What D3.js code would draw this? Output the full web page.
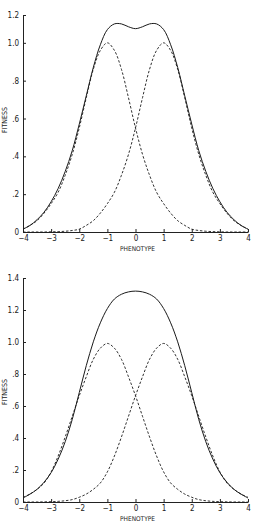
<!DOCTYPE html>
<html>
<head>
<meta charset="utf-8">
<script src="https://cdn.jsdelivr.net/npm/d3@7"></script>
<style>
  body { margin: 0; background: #fff; }
  svg text { font-family: "DejaVu Sans Condensed", "DejaVu Sans", sans-serif; fill: #1a1a1a; }
</style>
</head>
<body>
<svg id="chart" width="258" height="522"></svg>
<script>
// phenotype grid, -4 .. 4 every 0.25
const phenotype = [-4, -3.75, -3.5, -3.25, -3, -2.75, -2.5, -2.25, -2, -1.75, -1.5, -1.25, -1,
  -0.75, -0.5, -0.25, 0, 0.25, 0.5, 0.75, 1, 1.25, 1.5, 1.75, 2, 2.25, 2.5, 2.75, 3, 3.25, 3.5, 3.75, 4];

// top panel
const topLeft = [0.015, 0.035, 0.06, 0.10, 0.15, 0.21, 0.30, 0.41, 0.55, 0.71, 0.86, 0.96, 1.00,
  0.96, 0.86, 0.71, 0.55, 0.41, 0.30, 0.21, 0.15, 0.10, 0.06, 0.035, 0.015, 0.008, 0.004, 0.002, 0.001, 0, 0, 0, 0];
const topRight = [0, 0, 0, 0, 0.001, 0.002, 0.004, 0.008, 0.015, 0.035, 0.06, 0.10, 0.15,
  0.21, 0.30, 0.41, 0.55, 0.71, 0.86, 0.96, 1.00, 0.96, 0.86, 0.71, 0.55, 0.41, 0.30, 0.21, 0.15, 0.10, 0.06, 0.035, 0.015];
const topTotal = [0.015, 0.035, 0.065, 0.105, 0.16, 0.23, 0.32, 0.43, 0.57, 0.72, 0.87, 0.99, 1.07,
  1.10, 1.10, 1.085, 1.075, 1.085, 1.10, 1.10, 1.07, 0.99, 0.87, 0.72, 0.57, 0.43, 0.32, 0.23, 0.16, 0.105, 0.065, 0.035, 0.015];

// bottom panel
const botLeft = [0.03, 0.05, 0.08, 0.12, 0.19, 0.29, 0.41, 0.54, 0.67, 0.79, 0.90, 0.97, 1.00,
  0.97, 0.90, 0.79, 0.67, 0.54, 0.41, 0.29, 0.19, 0.12, 0.08, 0.05, 0.03, 0.015, 0.008, 0.004, 0.002, 0.001, 0, 0, 0];
const botRight = [0, 0, 0, 0.001, 0.002, 0.004, 0.008, 0.015, 0.03, 0.05, 0.08, 0.12, 0.19,
  0.29, 0.41, 0.54, 0.67, 0.79, 0.90, 0.97, 1.00, 0.97, 0.90, 0.79, 0.67, 0.54, 0.41, 0.29, 0.19, 0.12, 0.08, 0.05, 0.03];
const botTotal = [0.025, 0.05, 0.08, 0.125, 0.185, 0.27, 0.38, 0.52, 0.69, 0.86, 1.01, 1.13, 1.22,
  1.28, 1.31, 1.325, 1.33, 1.325, 1.31, 1.28, 1.22, 1.13, 1.01, 0.86, 0.69, 0.52, 0.38, 0.27, 0.185, 0.125, 0.08, 0.05, 0.025];

const xTicks = [-4, -3, -2, -1, 0, 1, 2, 3, 4];
const topYTicks = [0, 0.2, 0.4, 0.6, 0.8, 1.0, 1.2];
const botYTicks = [0, 0.2, 0.4, 0.6, 0.8, 1.0, 1.2, 1.4];

const svg = d3.select("#chart");
const fmt = v => v === 0 ? "0" : (v < 1 ? d3.format(".1f")(v).replace(/^0/, "") : d3.format(".1f")(v));

function panel(cfg) {
  const g = svg.append("g");
  const x = d3.scaleLinear().domain([-4, 4]).range([cfg.left, cfg.right]);
  const y = d3.scaleLinear().domain(cfg.yDomain).range([cfg.bottom, cfg.top]);
  // the plotter put the top label at the end of the axis, not to scale
  const yAxisScale = d3.scaleLinear().domain(cfg.axisDomain).range(cfg.axisDomain.map(
    (v, i) => i === cfg.axisDomain.length - 1 ? cfg.axisTop : y(v)));

  const xa = g.append("g").attr("transform", `translate(0,${cfg.bottom})`)
    .call(d3.axisBottom(x).tickValues(xTicks).tickSize(0).tickPadding(3).tickFormat(d3.format("d")));
  xa.select(".domain").attr("stroke", "#222").attr("stroke-width", 1);
  xa.selectAll(".tick line").attr("y1", -3).attr("y2", 0).attr("stroke", "#222");
  xa.selectAll("text").attr("font-size", 8).attr("fill", "#1a1a1a");

  const ya = g.append("g").attr("transform", `translate(${cfg.left},0)`)
    .call(d3.axisLeft(yAxisScale).tickValues(cfg.yTicks).tickSize(0).tickPadding(4).tickFormat(fmt));
  ya.select(".domain").attr("stroke", "#222").attr("stroke-width", 1);
  ya.selectAll(".tick line").attr("x1", 0).attr("x2", 3).attr("stroke", "#222");
  ya.selectAll("text").attr("font-size", 8).attr("fill", "#1a1a1a");

  g.append("text").attr("x", (cfg.left + cfg.right) / 2 + 2).attr("y", cfg.bottom + 19)
    .attr("text-anchor", "middle").attr("font-size", 6.5).text("PHENOTYPE");
  g.append("text").attr("transform", `translate(7,${cfg.labelY}) rotate(-90)`)
    .attr("text-anchor", "middle").attr("font-size", 7).text("FITNESS");

  const line = d3.line().x((d, i) => x(phenotype[i])).y(d => y(d)).curve(d3.curveCatmullRom);
  cfg.dashed.forEach(s => {
    g.append("path").attr("d", line(s)).attr("fill", "none").attr("stroke", "#1a1a1a")
      .attr("stroke-width", 0.9).attr("stroke-dasharray", "2.5,1.8");
  });
  g.append("path").attr("d", line(cfg.solid)).attr("fill", "none").attr("stroke", "#1a1a1a").attr("stroke-width", 1);
}

panel({ left: 23, right: 248, top: 5, bottom: 232, yDomain: [0, 1.2], axisDomain: [0, 1.0, 1.2], axisTop: 15,
  yTicks: topYTicks, dashed: [topLeft, topRight], solid: topTotal, labelY: 120 });
panel({ left: 23, right: 248, top: 280, bottom: 502, yDomain: [0, 1.4], axisDomain: [0, 1.4], axisTop: 278,
  yTicks: botYTicks, dashed: [botLeft, botRight], solid: botTotal, labelY: 392 });
</script>
</body>
</html>
